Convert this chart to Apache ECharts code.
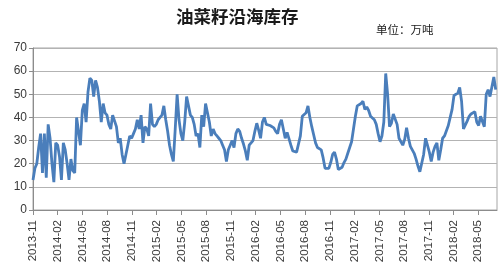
<!DOCTYPE html>
<html>
<head>
<meta charset="utf-8">
<script src="https://cdn.jsdelivr.net/npm/echarts@6/dist/echarts.min.js"></script>
<style>html,body{margin:0;padding:0;background:#fff}#c{width:500px;height:272px}</style>
</head>
<body>
<div id="c"></div>
<script>
// Weekly coastal rapeseed inventory (万吨), starting early Nov 2013
const weeklyValues = [
13,18,20,27,33,16,33,14,37,31,20,12,29,28,23,13,29,26,20,13,
22,17,16,40,40,28,43,46,38,51,57,56,49,56,53,47,38,46,42,41,
37,35,41,41.5,36,29,31,24,20,24,28,32,31,33,35,39,35,41,29,36,
35,32,46,37,36,37,39,40,41,45,39,34,28,24,21,35,50,39,33,30,
38,49,45,41,40,37,32,33,27,41,36,46,42,38,32,35,33,32,31,30,
28,26,21,26,28,30,27,33,35,34,31,28.5,25.5,21.5,28,29,30,34,37.5,34.5,
31,38,40,37,36.5,36.5,36,35.5,34,33,37,39,35,31,33.5,33,28,25.5,25,25,
25,32,40.5,41,42,45,40,36,32.5,29,27,26.5,26,22.5,18,18.5,18,20.5,24,25,
22,17.5,17,18.5,20.5,22,24.5,27,29.5,35,40.5,45,44.5,46,47,43.5,44.5,43,40.5,40,
39,37,33,29.5,32,38,59,50,36,37.5,41.5,41,37,31,31,28,30.5,35.5,31,27.5,
26,24.5,22,19,16.5,17,24,31,28,25,21,25,27.5,29,21.5,26,31,32,32,36.5,
40,43.5,49.5,50,50.5,53,47,35,35.5,38.5,40.5,41.5,42,42.5,38,36.5,40.5,40,36,50,
52,49,49,57.5,52
];
const tickLabels = ['2013-11','2014-02','2014-05','2014-08','2014-11','2015-02','2015-05','2015-08','2015-11',
  '2016-02','2016-05','2016-08','2016-11','2017-02','2017-05','2017-08','2017-11','2018-02','2018-05'];
const yTicks = [0,10,20,30,40,50,60,70];

const monthsPerWeek = 12 / 52.18;
const seriesData = weeklyValues.map((v, i) => [i * monthsPerWeek, v]);

const chart = echarts.init(document.getElementById('c'), null, {renderer: 'canvas'});
chart.setOption({
  animation: false,
  backgroundColor: '#fff',
  title: [
    {text: '油菜籽沿海库存', left: 171, top: 3,
     textStyle: {fontSize: 17.5, fontWeight: 'bold', color: '#1a1a1a', fontFamily: 'Noto Sans CJK SC'}},
    {text: '单位：万吨', left: 371, top: 19,
     textStyle: {fontSize: 11.5, fontWeight: 'normal', color: '#1a1a1a', fontFamily: 'Noto Sans CJK SC'}}
  ],
  grid: {left: 33, right: 3, top: 48, bottom: 62, show: true, borderColor: '#a6a6a6', borderWidth: 1},
  xAxis: {
    type: 'value', min: 0, max: 56.27, interval: 3,
    axisLine: {show: true, lineStyle: {color: '#8c8c8c'}},
    axisTick: {show: true, length: 5, lineStyle: {color: '#8c8c8c'}},
    splitLine: {show: false},
    axisLabel: {rotate: 90, fontSize: 11.5, color: '#3a3a3a', margin: 10, showMaxLabel: false,
      fontFamily: 'Liberation Sans',
      formatter: v => { const k = Math.round(v / 3); return (Math.abs(v - k*3) < 1e-6 && tickLabels[k]) ? tickLabels[k] : ''; }}
  },
  yAxis: {
    type: 'value', min: yTicks[0], max: yTicks[yTicks.length-1], interval: 10,
    axisLine: {show: true, lineStyle: {color: '#8c8c8c'}},
    axisTick: {show: true, length: 4, lineStyle: {color: '#8c8c8c'}},
    splitLine: {show: true, lineStyle: {color: '#b3b3b3', width: 1}},
    axisLabel: {fontSize: 12, color: '#3a3a3a', margin: 6, fontFamily: 'Liberation Sans'}
  },
  series: [{
    type: 'line', data: seriesData, showSymbol: false, symbol: 'none',
    lineStyle: {color: '#4a7ebb', width: 2.8}, itemStyle: {color: '#4a7ebb'}
  }]
});
</script>
</body>
</html>
